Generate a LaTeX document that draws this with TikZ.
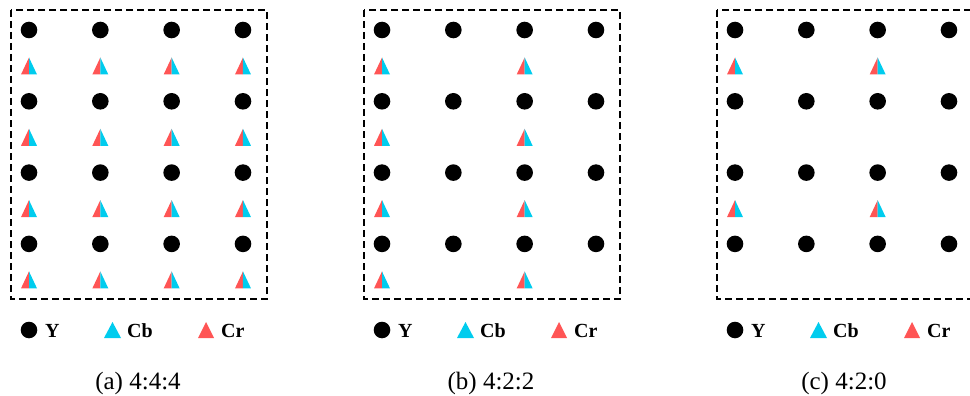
\documentclass[tikz,border=0pt]{standalone}
\usepackage{fontspec}
\setmainfont{Liberation Serif}
\usepackage{xcolor}

\definecolor{crred}{RGB}{255,85,85}
\definecolor{cbcyan}{RGB}{0,204,238}

\tikzset{
  lumadot/.style={fill=black},
  framebox/.style={line width=2.2pt, dash pattern=on 7pt off 4pt},
  legendtext/.style={anchor=base west, inner sep=0pt, font=\fontsize{20}{22}\selectfont\bfseries},
  captiontext/.style={anchor=base, inner sep=0pt, font=\fontsize{25}{28}\selectfont}
}

\begin{document}
\begin{tikzpicture}[x=1pt, y=-1pt]
    \useasboundingbox (0,0) rectangle (970,396);
    \clip (0,0) rectangle (970,396);

    \foreach \off/\name/\cap/\cols/\rows in {
        0/a/{(a) 4:4:4}/{0,1,2,3}/{0,1,2,3},
        353/b/{(b) 4:2:2}/{0,2}/{0,1,2,3},
        706/c/{(c) 4:2:0}/{0,2}/{0,2}} {
    \begin{scope}[xshift=\off]
        % Dashed frame
        \draw[framebox] (11,10) rectangle (267,299);

        % Luma samples (Y)
        \foreach \i in {0,...,3}
            \foreach \j in {0,...,3}
                \fill[lumadot] (29+71.33*\i, 30+71.3*\j) circle (8.3);

        % Chroma samples (Cr left half, Cb right half)
        \foreach \i in \cols
            \foreach \j in \rows {
                \coordinate (T) at (29+71.33*\i, 66+71.3*\j);
                \fill[crred] ([shift={(-8,8.5)}]T) -- ([shift={(0,-8.5)}]T) -- ([shift={(0,8.5)}]T) -- cycle;
                \fill[cbcyan] ([shift={(0,-8.5)}]T) -- ([shift={(8,8.5)}]T) -- ([shift={(0,8.5)}]T) -- cycle;
            }

        % Legend
        \fill[lumadot] (29,330) circle (8.3);
        \node[legendtext] (legY-\name) at (45,337) {Y};
        \fill[cbcyan] (104,338) -- (112.5,322) -- (121,338) -- cycle;
        \node[legendtext] (legCb-\name) at (127,337) {Cb};
        \fill[crred] (198,338) -- (206,322) -- (214,338) -- cycle;
        \node[legendtext] (legCr-\name) at (221,337) {Cr};

        % Caption
        \node[captiontext] (cap-\name) at (138,389) {\cap};
    \end{scope}
    }
\end{tikzpicture}
\end{document}
